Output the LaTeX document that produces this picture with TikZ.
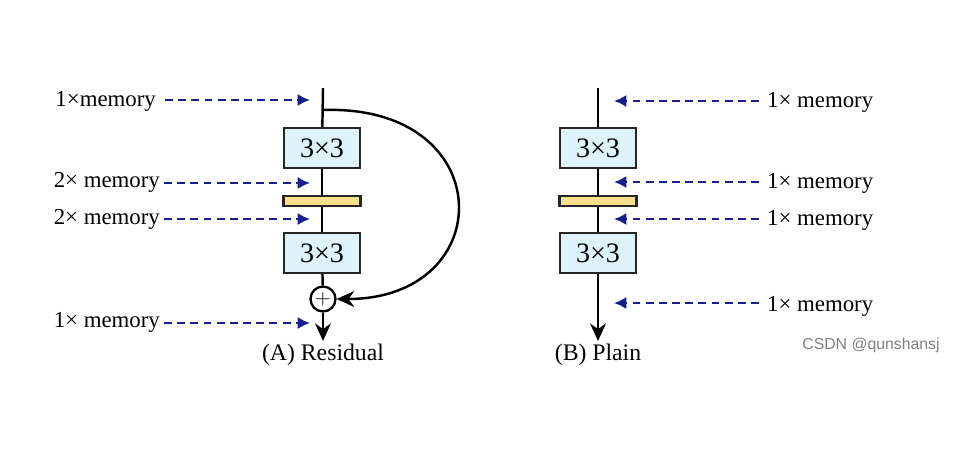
\documentclass[tikz,border=0pt]{standalone}
\usepackage{fontspec}
\setmainfont{Liberation Serif}
\setsansfont{Liberation Sans}
\usepackage{tikz}
\usetikzlibrary{positioning, arrows.meta, calc}
\definecolor{convfill}{RGB}{222,243,250}
\definecolor{bnfill}{RGB}{245,225,140}
\definecolor{memblue}{RGB}{25,30,140}

\begin{document}
\begin{tikzpicture}[x=0.02cm, y=-0.02cm,
    conv/.style={draw=black!85, line width=1.3pt, fill=convfill, rectangle, minimum width=1.52cm, minimum height=0.8cm, inner sep=0pt, font=\fontsize{16}{18}\selectfont},
    bn/.style={draw=black!85, line width=1.3pt, fill=bnfill, rectangle, minimum width=1.54cm, minimum height=0.2cm, inner sep=0pt},
    plus/.style={draw=black, line width=1.3pt, circle, minimum size=0.5cm, inner sep=0pt, font=\fontsize{13}{13}\selectfont},
    edge/.style={line width=1.4pt},
    memlabel/.style={font=\fontsize{13}{15}\selectfont, inner sep=1pt, text depth=0.25ex},
    memarrow/.style={draw=memblue, line width=1.4pt, dash pattern=on 4.5pt off 3pt, -{Latex[length=7pt, width=7pt]}},
    caption/.style={font=\fontsize{13.5}{15}\selectfont}
]
\useasboundingbox (0,0) rectangle (966,451);

% (A) residual
\coordinate (topA) at (323,88);
\coordinate (splitA) at (323,110);
\node[conv] (convA1) at (322,148) {3×3};
\node[bn] (bnA) at (322,201) {};
\node[conv] (convA2) at (322,253) {3×3};
\node[plus] (plusA) at (323,299) {$+$};
\coordinate (outA) at (323,341);
\node[caption, below=-2pt of outA] (capA) {(A) Residual};

\draw[edge] (topA) -- (convA1);
\draw[edge] (convA1) -- (bnA);
\draw[edge] (bnA) -- (convA2);
\draw[edge] (convA2) -- (plusA);
\draw[edge, -{Stealth[length=10pt, width=9pt]}] (plusA) -- (outA);
\draw[edge, -{Stealth[length=10pt, width=9pt]}] (splitA) .. controls (500,104) and (500,299) .. (plusA.east);

% (B) plain
\coordinate (topB) at (598,88);
\node[conv] (convB1) at (598,148) {3×3};
\node[bn] (bnB) at (598,201) {};
\node[conv] (convB2) at (598,253) {3×3};
\coordinate (outB) at (598,341);
\node[caption, below=-2pt of outB] (capB) {(B) Plain};

\draw[edge] (topB) -- (convB1);
\draw[edge] (convB1) -- (bnB);
\draw[edge] (bnB) -- (convB2);
\draw[edge, -{Stealth[length=10pt, width=9pt]}] (convB2) -- (outB);

% memory (A)
\node[memlabel, anchor=east] (memA1) at (158,100) {1×memory};
\node[memlabel, anchor=east] (memA2) at (162,181) {2× memory};
\node[memlabel, anchor=east] (memA3) at (162,218) {2× memory};
\node[memlabel, anchor=east] (memA4) at (162,321) {1× memory};
\coordinate (inA1) at (310,100);
\coordinate (inA2) at (310,183);
\coordinate (inA3) at (310,219);
\coordinate (inA4) at (310,323);
\draw[memarrow] (memA1.east |- inA1) ++(7,0) -- (inA1);
\draw[memarrow] (memA2.east |- inA2) ++(2,0) -- (inA2);
\draw[memarrow] (memA3.east |- inA3) ++(2,0) -- (inA3);
\draw[memarrow] (memA4.east |- inA4) ++(2,0) -- (inA4);

% memory (B)
\node[memlabel, anchor=west] (memB1) at (765,101) {1× memory};
\node[memlabel, anchor=west] (memB2) at (765,182) {1× memory};
\node[memlabel, anchor=west] (memB3) at (765,219) {1× memory};
\node[memlabel, anchor=west] (memB4) at (765,305) {1× memory};
\coordinate (inB1) at (614,101);
\coordinate (inB2) at (614,182);
\coordinate (inB3) at (614,219);
\coordinate (inB4) at (614,303);
\draw[memarrow] (memB1.west |- inB1) ++(-6,0) -- (inB1);
\draw[memarrow] (memB2.west |- inB2) ++(-6,0) -- (inB2);
\draw[memarrow] (memB3.west |- inB3) ++(-6,0) -- (inB3);
\draw[memarrow] (memB4.west |- inB4) ++(-6,0) -- (inB4);

\node[font=\sffamily\fontsize{9}{10}\selectfont, text=gray] (mark) at (871,345) {CSDN @qunshansj};

\end{tikzpicture}
\end{document}
